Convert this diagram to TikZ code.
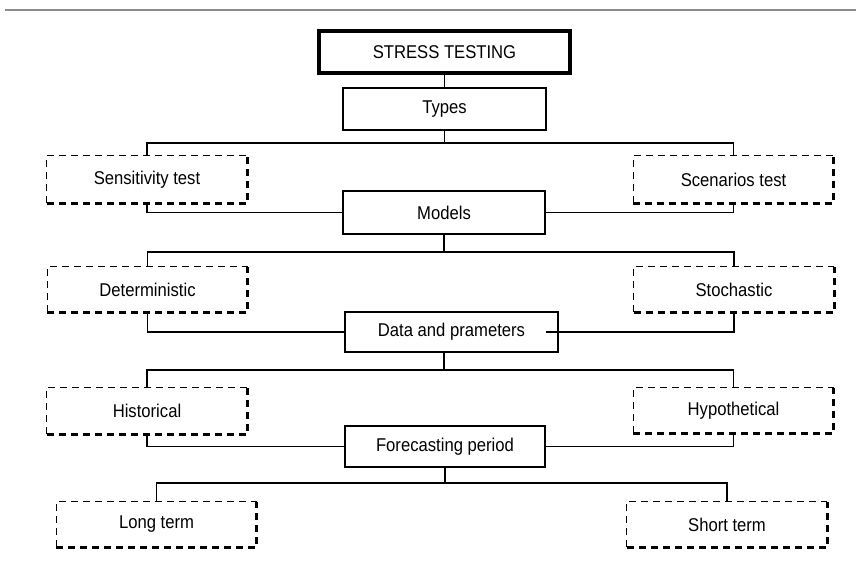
\documentclass[tikz,border=0pt]{standalone}
\usepackage{fontspec}
\setmainfont{Liberation Sans}[FakeStretch=0.9]
\begin{document}
\begin{tikzpicture}[x=1pt,y=-1pt,
  box/.style={draw,line width=1.8pt,minimum width=#1,inner sep=0pt,font=\fontsize{18.5}{20}\selectfont},
  titlebox/.style={draw,line width=3.2pt,inner sep=0pt,font=\fontsize{18.5}{20}\selectfont},
  dbox/.style={inner sep=0pt,minimum width=200,font=\fontsize{18.5}{20}\selectfont},
  conn/.style={line width=1.8pt},
  thindash/.style={line width=1.1pt,dash pattern=on 7pt off 5pt},
  thickdash/.style={line width=2.6pt,dash pattern=on 7pt off 5pt}]
\useasboundingbox (0,0) rectangle (856,573);
\draw[line width=2pt,color=black!45] (5,10) -- (856,10);

\node[titlebox,minimum width=251,minimum height=42] (st) at (444.5,52) {STRESS TESTING};
\node[box=203,minimum height=42] (types) at (444.5,109) {Types};
\node[dbox,minimum height=47] (sens) at (147,179.5) {Sensitivity test};
\node[dbox,minimum height=47] (scen) at (733.5,179.5) {Scenarios test};
\node[box=202,minimum height=43] (models) at (444,212.5) {Models};
\node[dbox,minimum height=45] (det) at (147.5,289.5) {Deterministic};
\node[dbox,minimum height=45] (sto) at (734,289.5) {Stochastic};
\node[box=213,minimum height=40] (data) at (451.5,332) {Data and prameters};
\node[dbox,minimum height=46] (hist) at (147,411) {Historical};
\node[dbox,minimum height=45] (hyp) at (733.5,410.5) {Hypothetical};
\node[box=200,minimum height=41] (fore) at (445,446.5) {Forecasting period};
\node[dbox,minimum height=45] (long) at (156.5,524.5) {Long term};
\node[dbox,minimum height=45] (short) at (727,524.5) {Short term};

\foreach \n in {sens,scen,det,sto,hist,hyp,long,short}{
  \draw[thindash] (\n.south west) |- (\n.north east);
  \draw[thickdash] (\n.south west) -| (\n.north east);
}

\coordinate (b1) at (444.5,143);
\coordinate (b2) at (444,252);
\coordinate (b3) at (444,370);
\coordinate (b4) at (445,483);
\coordinate (dstub) at ([xshift=-13pt]data.east);

\draw[conn] (st) -- (types);
\draw[conn] (types.south) -- (b1);
\draw[conn] (sens.north) |- (b1) -| (scen.north);
\draw[conn] (sens.south) |- (models.west);
\draw[conn] (scen.south) |- (models.east);
\draw[conn] (models.south) -- (b2);
\draw[conn] (det.north) |- (b2) -| (sto.north);
\draw[conn] (det.south) |- (data.west);
\draw[conn] (sto.south) |- (dstub);
\draw[conn] (b3 |- data.south) -- (b3);
\draw[conn] (hist.north) |- (b3) -| (hyp.north);
\draw[conn] (hist.south) |- (fore.west);
\draw[conn] (hyp.south) |- (fore.east);
\draw[conn] (fore.south) -- (b4);
\draw[conn] (long.north) |- (b4) -| (short.north);
\end{tikzpicture}
\end{document}
